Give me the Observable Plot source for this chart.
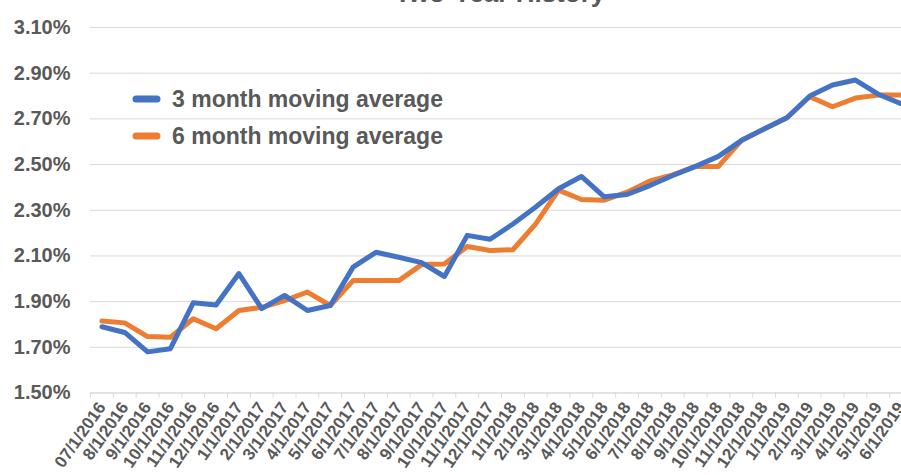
<!DOCTYPE html>
<html>
<head>
<meta charset="utf-8">
<script src="https://cdn.jsdelivr.net/npm/d3@7"></script>
<script src="https://cdn.jsdelivr.net/npm/@observablehq/plot@0.6"></script>
<style>
  html, body { margin: 0; padding: 0; background: #fff; overflow: hidden; }
  #wrap { position: relative; width: 901px; height: 475px; overflow: hidden; background: #fff; }
  #chart { position: absolute; left: 0; top: 0; width: 912px; }
  #chart svg { max-width: none !important; }
  #title { position: absolute; left: 0; width: 1000px; top: -20px; text-align: center;
           font: bold 26px/26px "Liberation Sans", Arial, sans-serif; color: #595959; white-space: nowrap; }
  #legend { position: absolute; left: 0; top: 0; }
</style>
</head>
<body>
<div id="wrap">
  <div id="chart"></div>
  <div id="title">Two-Year History</div>
  <svg id="legend" width="901" height="475"></svg>
</div>
<script>
// ---- data ----
const dates = [
  "07/1/2016","8/1/2016","9/1/2016","10/1/2016","11/1/2016","12/1/2016",
  "1/1/2017","2/1/2017","3/1/2017","4/1/2017","5/1/2017","6/1/2017",
  "7/1/2017","8/1/2017","9/1/2017","10/1/2017","11/1/2017","12/1/2017",
  "1/1/2018","2/1/2018","3/1/2018","4/1/2018","5/1/2018","6/1/2018",
  "7/1/2018","8/1/2018","9/1/2018","10/1/2018","11/1/2018","12/1/2018",
  "1/1/2019","2/1/2019","3/1/2019","4/1/2019","5/1/2019","6/1/2019"
];
const avg3 = [
  1.790, 1.765, 1.680, 1.694, 1.895, 1.885,
  2.023, 1.869, 1.927, 1.861, 1.883, 2.051,
  2.116, 2.094, 2.071, 2.010, 2.190, 2.173,
  2.240, 2.314, 2.394, 2.448, 2.359, 2.369,
  2.408, 2.452, 2.492, 2.536, 2.605, 2.656,
  2.705, 2.800, 2.848, 2.870, 2.808, 2.766
];
const avg6 = [
  1.815, 1.807, 1.747, 1.744, 1.825, 1.781,
  1.861, 1.875, 1.904, 1.942, 1.883, 1.992,
  1.992, 1.992, 2.062, 2.065, 2.141, 2.124,
  2.127, 2.240, 2.388, 2.347, 2.344, 2.379,
  2.428, 2.455, 2.492, 2.492, 2.605, 2.656,
  2.705, 2.797, 2.753, 2.791, 2.804, 2.805
];
const seriesNames = ["3 month moving average", "6 month moving average"];
const seriesColors = ["#4472C4", "#ED7D31"];
const yTicks = [1.5, 1.7, 1.9, 2.1, 2.3, 2.5, 2.7, 2.9, 3.1];
const titleText = "Two-Year History";

// ---- build ----
const rows3 = dates.map((d, i) => ({date: d, value: avg3[i]}));
const rows6 = dates.map((d, i) => ({date: d, value: avg6[i]}));

const W = 912, ML = 90, MR = 0;
const step = (W - ML - MR) / dates.length;
const font = '"Liberation Sans", Arial, sans-serif';

const chart = Plot.plot({
  width: W,
  height: 475,
  marginLeft: ML,
  marginRight: MR,
  marginTop: 27,
  marginBottom: 82.5,
  style: {fontFamily: font, fontWeight: "bold", color: "#595959", background: "transparent",
          overflow: "visible", maxWidth: "none"},
  x: {type: "point", domain: dates, padding: 0.5, round: false, label: null},
  y: {domain: [1.5, 3.1], label: null},
  marks: [
    Plot.gridY(yTicks, {stroke: "#D9D9D9", strokeOpacity: 1, strokeWidth: 1}),
    Plot.ruleY([1.5], {stroke: "#D9D9D9", strokeWidth: 1}),
    Plot.axisY(yTicks, {tickSize: 0, tickPadding: 20, fontSize: 20, fontWeight: "bold", label: null,
      tickFormat: d => d.toFixed(2) + "%"}),
    Plot.axisX({tickSize: 5, tickFormat: () => "", dx: -step / 2, stroke: "#D9D9D9", strokeOpacity: 1, label: null}),
    Plot.axisX({tickSize: 0, tickPadding: 11, tickRotate: -55, fontSize: 17, fontWeight: "bold", label: null}),
    Plot.line(rows6, {x: "date", y: "value", stroke: seriesColors[1], strokeWidth: 5, strokeLinejoin: "round"}),
    Plot.line(rows3, {x: "date", y: "value", stroke: seriesColors[0], strokeWidth: 5, strokeLinejoin: "round"})
  ]
});
document.getElementById("chart").appendChild(chart);
document.getElementById("title").textContent = titleText;

// legend (inside plot area, like the original)
const leg = d3.select("#legend");
const legY = [99, 136];
seriesNames.forEach((name, i) => {
  leg.append("line").attr("x1", 136).attr("x2", 157).attr("y1", legY[i]).attr("y2", legY[i])
    .attr("stroke", seriesColors[i]).attr("stroke-width", 7).attr("stroke-linecap", "round");
  leg.append("text").attr("x", 172).attr("y", legY[i] + 7.7)
    .attr("font-family", font).attr("font-weight", "bold").attr("font-size", 23)
    .attr("fill", "#595959").text(name);
});
</script>
</body>
</html>
